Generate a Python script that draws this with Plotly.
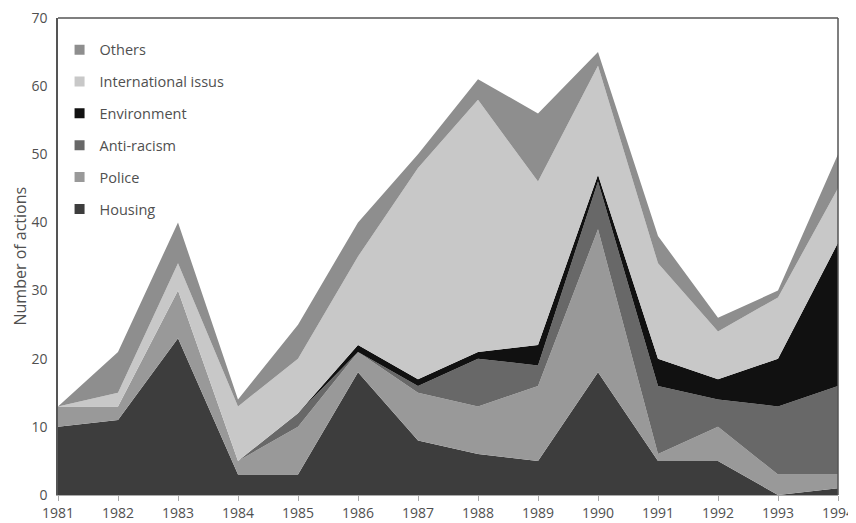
import plotly.graph_objects as go

years = [1981, 1982, 1983, 1984, 1985, 1986, 1987, 1988, 1989, 1990, 1991, 1992, 1993, 1994]
housing = [10, 11, 23, 3, 3, 18, 8, 6, 5, 18, 5, 5, 0, 1]
police = [3, 2, 7, 2, 7, 3, 7, 7, 11, 21, 1, 5, 3, 2]
anti_racism = [0, 0, 0, 0, 2, 0, 1, 7, 3, 7, 10, 4, 10, 13]
environment = [0, 0, 0, 0, 0, 1, 1, 1, 3, 1, 4, 3, 7, 21]
international = [0, 2, 4, 8, 8, 13, 31, 37, 24, 16, 14, 7, 9, 8]
others = [0, 6, 6, 1, 5, 5, 2, 3, 10, 2, 4, 2, 1, 5]

series = [
    ("Housing", housing, "#3d3d3d"),
    ("Police", police, "#999999"),
    ("Anti-racism", anti_racism, "#686868"),
    ("Environment", environment, "#111111"),
    ("International issus", international, "#c8c8c8"),
    ("Others", others, "#8e8e8e"),
]

fig = go.Figure()
for name, vals, col in series:
    fig.add_trace(go.Scatter(
        x=years, y=vals, name=name, mode="none", stackgroup="one",
        fillcolor=col, line=dict(width=0), showlegend=False, hoverinfo="x+y+name",
    ))
# legend entries with square swatches (top of stack listed first)
for name, vals, col in reversed(series):
    fig.add_trace(go.Scatter(
        x=[None], y=[None], name=name, mode="markers",
        marker=dict(symbol="square", size=10, color=col),
        legendgroup=name, showlegend=True,
    ))

# page body has an 8px margin, so the figure is sized/offset to compensate
fig.update_layout(
    width=848, height=515,
    margin=dict(l=50, r=18, t=10, b=28),
    paper_bgcolor="white", plot_bgcolor="white",
    font=dict(family="Open Sans, Arial, sans-serif", size=14, color="#505050"),
    legend=dict(
        x=0.002, y=0.967, xanchor="left", yanchor="top",
        traceorder="grouped", tracegroupgap=10, itemwidth=30,
        bgcolor="rgba(0,0,0,0)", font=dict(size=14.5, color="#505050"),
    ),
    xaxis=dict(
        range=[1981, 1994], tickmode="array", tickvals=years,
        ticktext=[str(y) for y in years], automargin=False,
        ticklabeloverflow="allow",
        showgrid=False, zeroline=False, showline=True, linecolor="#aaaaaa",
        ticks="outside", ticklen=5, tickcolor="#aaaaaa",
    ),
    yaxis=dict(
        range=[0, 70], dtick=10, showgrid=False, zeroline=False,
        showline=True, linecolor="#555555", linewidth=1.5, automargin=False,
        ticklabeloverflow="allow",
        ticks="", ticklabelstandoff=6,
    ),
    annotations=[dict(
        text="Number of actions", xref="paper", yref="paper",
        x=-0.05, y=0.5, xanchor="center", yanchor="middle", textangle=-90,
        showarrow=False, font=dict(size=16, color="#505050"),
    )],
)
fig.add_shape(type="line", xref="paper", yref="paper", x0=1, x1=1, y0=0, y1=1,
              line=dict(color="#555555", width=1.5))
fig.add_shape(type="line", xref="paper", yref="paper", x0=0, x1=1, y0=1, y1=1,
              line=dict(color="#555555", width=1.5))
fig.write_html("out.html")
